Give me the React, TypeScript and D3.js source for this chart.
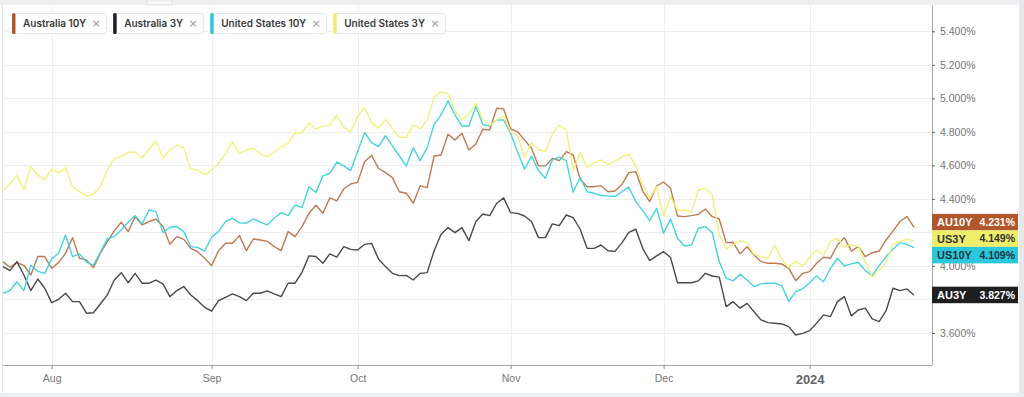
import React, { useEffect, useRef } from 'react'
import * as d3 from 'd3'

// bond yields, one value per weekday starting Fri 21 Jul 2023
const au10y = [4.024,3.992,4.020,4.004,3.946,4.056,4.056,3.986,4.020,4.076,4.169,4.046,4.036,3.990,4.076,4.145,4.209,4.261,4.205,4.294,4.245,4.265,4.280,4.235,4.129,4.175,4.159,4.105,4.085,4.046,4.002,4.091,4.135,4.135,4.181,4.091,4.161,4.155,4.147,4.115,4.091,4.205,4.175,4.235,4.314,4.362,4.314,4.406,4.388,
  4.459,4.489,4.499,4.622,4.660,4.583,4.557,4.527,4.443,4.434,4.374,4.479,4.467,4.656,4.662,4.786,4.752,4.792,4.692,4.728,4.816,4.811,4.941,4.937,4.817,4.801,4.752,4.702,4.597,4.597,4.642,4.628,4.682,4.662,4.517,4.473,4.473,4.479,4.443,4.447,4.486,4.557,
  4.563,4.447,4.384,4.477,4.501,4.463,4.298,4.294,4.300,4.308,4.340,4.294,4.280,4.139,4.141,4.072,4.115,4.066,4.026,4.016,4.016,4.012,3.986,3.912,3.956,3.966,4.016,4.052,4.046,4.125,4.169,4.089,4.115,4.056,4.079,4.089,4.155,4.209,4.265,4.294,4.231]
const au3y = [3.996,3.972,4.026,3.946,3.853,3.922,3.867,3.781,3.801,3.837,3.787,3.787,3.718,3.721,3.773,3.827,3.916,3.960,3.900,3.956,3.897,3.897,3.916,3.893,3.817,3.853,3.877,3.827,3.793,3.753,3.731,3.793,3.813,3.833,3.817,3.793,3.837,3.837,3.851,3.833,3.817,3.897,3.897,3.962,4.060,4.056,4.016,4.072,4.052,
  4.115,4.099,4.095,4.129,4.135,4.042,3.996,3.956,3.942,3.944,3.916,3.956,3.960,4.091,4.189,4.229,4.199,4.229,4.151,4.265,4.310,4.300,4.374,4.406,4.318,4.314,4.298,4.265,4.169,4.169,4.251,4.241,4.304,4.288,4.219,4.105,4.105,4.125,4.091,4.087,4.138,4.200,
  4.219,4.105,4.032,4.060,4.085,4.050,3.900,3.900,3.900,3.911,3.956,3.940,3.933,3.757,3.787,3.748,3.777,3.727,3.678,3.662,3.658,3.654,3.638,3.588,3.598,3.614,3.658,3.708,3.698,3.787,3.817,3.702,3.737,3.748,3.684,3.668,3.733,3.867,3.853,3.863,3.827]
const us10y = [3.837,3.853,3.906,3.853,4.004,3.968,3.956,4.042,4.076,4.185,4.056,4.072,4.024,4.004,4.082,4.163,4.175,4.215,4.261,4.300,4.251,4.334,4.324,4.199,4.231,4.235,4.205,4.115,4.111,4.089,4.171,4.205,4.265,4.285,4.257,4.255,4.280,4.261,4.245,4.285,4.318,4.300,4.364,4.348,4.473,4.438,4.537,4.553,4.620,
  4.597,4.569,4.682,4.797,4.736,4.712,4.778,4.716,4.656,4.597,4.706,4.628,4.706,4.845,4.901,4.985,4.901,4.835,4.835,4.951,4.845,4.835,4.871,4.871,4.792,4.682,4.577,4.656,4.569,4.523,4.632,4.649,4.628,4.440,4.529,4.443,4.434,4.420,4.418,4.414,4.443,4.470,
  4.384,4.330,4.270,4.344,4.195,4.280,4.165,4.119,4.125,4.225,4.235,4.199,4.026,3.927,3.911,3.950,3.916,3.877,3.893,3.897,3.897,3.882,3.787,3.847,3.863,3.900,3.940,3.906,3.986,4.046,4.000,4.012,4.022,3.972,3.942,4.002,4.056,4.101,4.139,4.129,4.109]
const us3y = [4.447,4.489,4.539,4.453,4.593,4.543,4.515,4.577,4.557,4.587,4.473,4.443,4.418,4.428,4.473,4.573,4.640,4.652,4.678,4.678,4.644,4.696,4.744,4.646,4.692,4.722,4.704,4.579,4.571,4.545,4.573,4.613,4.672,4.740,4.670,4.692,4.704,4.666,4.652,4.680,4.710,4.732,4.792,4.795,4.853,4.816,4.834,4.840,4.899,
  4.827,4.801,4.891,4.947,4.855,4.821,4.875,4.821,4.768,4.768,4.843,4.816,4.871,5.007,5.040,5.026,4.925,4.871,4.907,4.971,4.877,4.839,4.871,4.895,4.801,4.776,4.644,4.736,4.692,4.682,4.788,4.839,4.811,4.569,4.676,4.589,4.617,4.632,4.603,4.625,4.649,4.667,
  4.597,4.483,4.404,4.473,4.298,4.414,4.330,4.334,4.320,4.453,4.463,4.424,4.185,4.101,4.125,4.151,4.139,4.070,4.056,4.046,4.125,4.040,3.990,4.030,4.000,4.050,4.095,4.066,4.145,4.165,4.112,4.127,4.115,4.026,3.933,3.976,4.020,4.131,4.145,4.161,4.149]

const seriesNames = ['Australia 10Y', 'Australia 3Y', 'United States 10Y', 'United States 3Y']
const shortNames = ['AU10Y', 'AU3Y', 'US10Y', 'US3Y']
const lineColors = ['#bf7953', '#4a4a4a', '#45d3e4', '#f1f17c']
const badgeColors = ['#b0562b', '#1f1f1f', '#2bc8db', '#eeee6b']
const badgeTextColors = ['#ffffff', '#ffffff', '#1d3340', '#333333']

const yTicks = [3.6, 3.8, 4.0, 4.2, 4.4, 4.6, 4.8, 5.0, 5.2, 5.4]
const monthTicks = ['2023-08-01', '2023-09-01', '2023-10-01', '2023-11-01', '2023-12-01', '2024-01-01']
const monthLabels = ['Aug', 'Sep', 'Oct', 'Nov', 'Dec', '2024']

export default function App() {
  const ref = useRef(null)

  useEffect(() => {
    const svg = d3.select(ref.current)
    svg.selectAll('*').remove()

    const data = [au10y, au3y, us10y, us3y]
    const n = au10y.length

    // weekdays from 21 Jul 2023
    const days = d3.timeDay.range(new Date(2023, 6, 21), new Date(2024, 1, 15))
      .filter(d => d.getDay() !== 0 && d.getDay() !== 6)
      .slice(0, n)

    const left = 3, right = 932, top = 5, bottom = 365

    const x = d3.scaleLinear().domain([0, n - 1 + 2.6]).range([left, right])
    const y = d3.scaleLinear().domain([3.409, 5.557]).range([bottom, top])

    // frame / background bits
    svg.append('rect').attr('x', 0).attr('y', 0).attr('width', 1024).attr('height', 397).attr('fill', '#ffffff')
    svg.append('rect').attr('x', 0).attr('y', 0).attr('width', 1019).attr('height', 5).attr('fill', '#eceef0')
    svg.append('rect').attr('x', 147).attr('y', 0).attr('width', 25).attr('height', 5).attr('fill', '#f8f8f9').attr('stroke', '#dcdde0')
    svg.append('rect').attr('x', 1019).attr('y', 0).attr('width', 5).attr('height', 397).attr('fill', '#e6e8eb')
    svg.append('rect').attr('x', 0).attr('y', 393).attr('width', 1024).attr('height', 4).attr('fill', '#eceef0')
    svg.append('line').attr('x1', 2.5).attr('x2', 2.5).attr('y1', 5).attr('y2', 393).attr('stroke', '#e3e5e8')

    const monthIdx = monthTicks.map(s => {
      const t = d3.timeParse('%Y-%m-%d')(s)
      return days.findIndex(d => d >= t)
    })

    // last value badges, pushed apart when they overlap
    const bh = 16.5
    const labels = data.map((s, k) => ({ k, target: y(s[s.length - 1]) })).sort((a, b) => a.target - b.target)
    let clusters = []
    labels.forEach(l => {
      clusters.push({ items: [l], top: l.target - bh / 2 })
      while (clusters.length > 1) {
        const a = clusters[clusters.length - 2], b = clusters[clusters.length - 1]
        if (a.top + a.items.length * bh <= b.top) break
        const items = a.items.concat(b.items)
        const mean = d3.mean(items, d => d.target)
        clusters.splice(clusters.length - 2, 2, { items, top: mean - items.length * bh / 2 })
      }
    })
    const badges = []
    clusters.forEach(c => c.items.forEach((l, j) => badges.push({ k: l.k, top: c.top + j * bh })))

    // grid
    const grid = svg.append('g')
    grid.selectAll('.hg').data(yTicks).enter().append('line')
      .attr('x1', left).attr('x2', right)
      .attr('y1', d => Math.round(y(d)) + 0.5).attr('y2', d => Math.round(y(d)) + 0.5)
      .attr('stroke', '#eeeeee')
    grid.selectAll('.vg').data(monthIdx).enter().append('line')
      .attr('x1', d => Math.round(x(d)) + 0.5).attr('x2', d => Math.round(x(d)) + 0.5)
      .attr('y1', top).attr('y2', bottom)
      .attr('stroke', '#eeeeee')

    // axes
    const yAxis = svg.append('g')
      .attr('transform', 'translate(' + right + ',0)')
      .call(d3.axisRight(y).tickValues(yTicks).tickSize(3).tickPadding(5).tickFormat(d => d3.format('.3f')(d) + '%'))
    yAxis.select('.domain').attr('stroke', '#a8a8a8').attr('d', 'M0.5,' + top + 'V' + bottom)
    yAxis.selectAll('.tick line').attr('stroke', '#666')
    yAxis.selectAll('text').attr('fill', '#777').attr('font-size', '10.5px').attr('font-family', 'Liberation Sans, Arial, sans-serif')
    // labels sitting fully under a badge are hidden, as on the original
    yAxis.selectAll('.tick').filter(d => badges.some(b => y(d) > b.top + 2 && y(d) < b.top + bh - 2)).select('text').remove()

    const xAxis = svg.append('g')
      .attr('transform', 'translate(0,' + bottom + ')')
      .call(d3.axisBottom(x).tickValues(monthIdx).tickSize(4).tickPadding(6).tickSizeOuter(0)
        .tickFormat((d, i) => monthLabels[i]))
    xAxis.select('.domain').attr('stroke', '#a8a8a8').attr('d', 'M' + left + ',0.5H' + right)
    xAxis.selectAll('.tick line').attr('stroke', '#888')
    xAxis.selectAll('text').attr('fill', '#777').attr('font-size', '10.5px').attr('font-family', 'Liberation Sans, Arial, sans-serif')
      .filter((d, i) => monthLabels[i] === '2024')
      .attr('font-size', '13px').attr('font-weight', 'bold').attr('fill', '#666')

    // lines
    const line = d3.line().x((d, i) => x(i)).y(d => y(d))
    data.forEach((s, k) => {
      svg.append('path').datum(s)
        .attr('d', line)
        .attr('fill', 'none')
        .attr('stroke', lineColors[k])
        .attr('stroke-width', 1.4)
        .attr('stroke-linejoin', 'round')
    })

    badges.forEach(b => {
      const k = b.k
      svg.append('rect').attr('x', right).attr('y', b.top).attr('width', 86).attr('height', bh).attr('fill', badgeColors[k])
      svg.append('text').attr('x', right + 5).attr('y', b.top + bh / 2).attr('dy', '0.36em')
        .attr('font-family', 'Liberation Sans, Arial, sans-serif').attr('font-size', '11px').attr('font-weight', 'bold')
        .attr('fill', badgeTextColors[k]).text(shortNames[k])
      svg.append('text').attr('x', right + 83).attr('y', b.top + bh / 2).attr('dy', '0.36em').attr('text-anchor', 'end')
        .attr('font-family', 'Liberation Sans, Arial, sans-serif').attr('font-size', '10.5px').attr('font-weight', 'bold')
        .attr('fill', badgeTextColors[k]).text(d3.format('.3f')(data[k][data[k].length - 1]) + '%')
    })

    // legend chips
    let cx = 12
    seriesNames.forEach((name, k) => {
      const g = svg.append('g').attr('transform', 'translate(' + cx + ',13)')
      const bg = g.append('rect').attr('y', 0).attr('height', 20).attr('rx', 3).attr('fill', '#fff').attr('stroke', '#e3e5e8')
      const txt = g.append('text').attr('x', 11).attr('y', 10).attr('dy', '0.35em')
        .attr('font-family', 'Inter, sans-serif').attr('font-size', '10px').attr('font-weight', 600)
        .attr('fill', '#3a3a3a').text(name)
      const tw = txt.node().getComputedTextLength()
      g.append('text').attr('x', 11 + tw + 10).attr('y', 10).attr('dy', '0.35em').attr('text-anchor', 'middle')
        .attr('font-family', 'DejaVu Sans, sans-serif').attr('font-size', '11px').attr('fill', '#999').text('×')
      const w = 11 + tw + 20
      bg.attr('x', 0.5).attr('y', 0.5).attr('width', w)
      g.append('rect').attr('x', 0).attr('y', 0).attr('width', 3.5).attr('height', 21).attr('rx', 1.5).attr('fill', badgeColors[k])
      cx += w + 7
    })
  }, [])

  return (
    <svg ref={ref} width={1024} height={397}
      style={{ position: 'absolute', left: 0, top: 0, display: 'block' }} />
  )
}
